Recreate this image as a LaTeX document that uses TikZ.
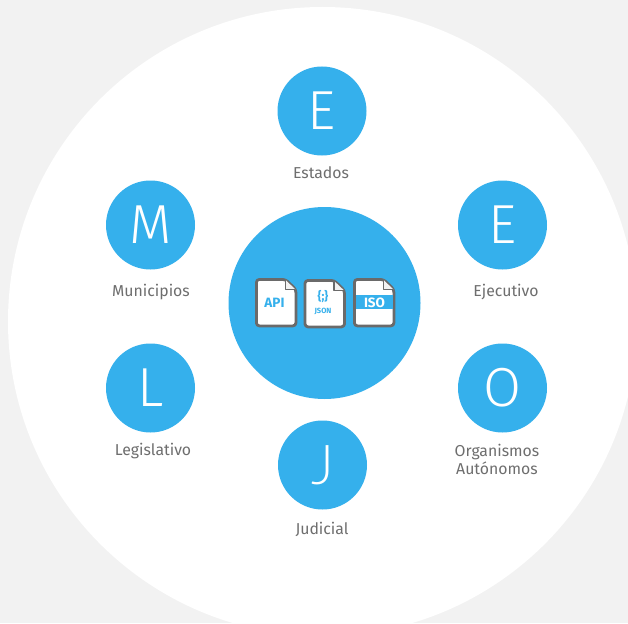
\documentclass[tikz,border=0pt]{standalone}
\usepackage{fontspec}
\setmainfont{Fira Sans}
\newfontfamily\lightf{Fira Sans Light}
\newfontfamily\lightj{Lato Light}
\definecolor{bg}{HTML}{F2F2F2}
\definecolor{blu}{HTML}{35B0EC}
\definecolor{lab}{HTML}{6E6E6E}
\definecolor{edge}{HTML}{6A6A6A}
\tikzset{
  bub/.style={circle,fill=blu,minimum size=89pt,inner sep=0pt,text=white,font=\lightf\fontsize{55}{55}\selectfont},
  lbl/.style={text=lab,font=\fontsize{15.8}{18}\selectfont,align=center,inner sep=0pt},
  filetxt/.style={text=blu,inner sep=0pt,font=\bfseries\fontsize{13.5}{14}\selectfont},
  filebody/.style={draw=edge,line width=2.8pt,fill=white,rounded corners=3pt,line join=round},
  fold/.style={draw=edge,line width=1.6pt,fill=bg,line join=round}
}
\newcommand{\docicon}[2]{%
  \begin{scope}[shift={(#1,#2)}]
    \draw[filebody] (0,0) -- (29,0) -- (39.5,10) -- (39.5,46.5) -- (0,46.5) -- cycle;
    \draw[fold] (29,0.5) -- (29,10) -- (39,10);
  \end{scope}}
\begin{document}
\begin{tikzpicture}[x=1pt,y=-1pt]
\useasboundingbox (0,0) rectangle (628,623);
\fill[bg] (0,0) rectangle (628,623);
\begin{scope}
\clip (0,0) rectangle (628,623);
\fill[white] (322.5,321.5) circle[radius=314.5];
\end{scope}
\node[circle,fill=blu,minimum size=192pt,inner sep=0pt] (hub) at (324.5,303) {};
\node[bub] (e1) at (322,111) {E};
\node[bub] (e2) at (502.5,225) {E};
\node[bub] (m) at (150.5,225) {M};
\node[bub] (l) at (150.5,388) {L};
\node[bub] (o) at (502.5,388) {O};
\node[bub,font=\lightj\fontsize{55}{55}\selectfont] (j) at (322.5,465) {J};
\node[lbl] (le1) at (321,173) {Estados};
\node[lbl] (le2) at (506,292) {Ejecutivo};
\node[lbl] (lm) at (151,292) {Municipios};
\node[lbl] (ll) at (153,451) {Legislativo};
\node[lbl] (lo) at (497,459.5) {Organismos\\Autónomos};
\node[lbl] (lj) at (322,529) {Judicial};
\docicon{256.4}{279.4}
\docicon{305}{280.4}
\docicon{354.4}{279.4}
\fill[blu] (355.8,295) rectangle (393,309);
\node[filetxt] (api) at (274.5,303) {API};
\node[filetxt,font=\bfseries\fontsize{12}{12}\selectfont] (brace) at (323,296.5) {\{;\}};
\node[filetxt,font=\bfseries\fontsize{7.5}{8}\selectfont] (json) at (323,311.5) {JSON};
\node[filetxt,text=white] (iso) at (374.5,302.5) {ISO};
\end{tikzpicture}
\end{document}
